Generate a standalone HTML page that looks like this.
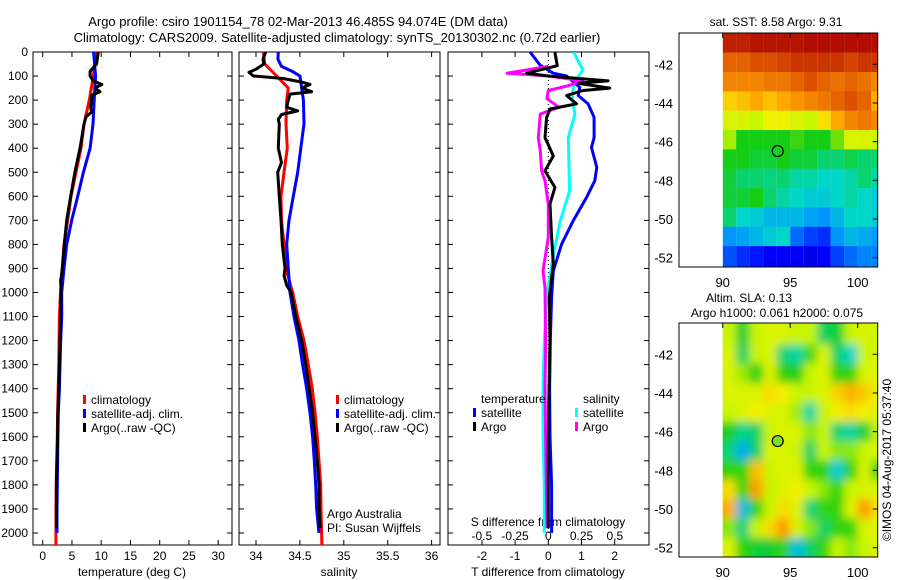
<!DOCTYPE html>
<html><head><meta charset="utf-8">
<style>
html,body{margin:0;padding:0;background:#fff;}
svg{display:block;font-family:"Liberation Sans",sans-serif;}
</style></head>
<body>
<svg id="fig" width="900" height="580" viewBox="0 0 900 580" xmlns="http://www.w3.org/2000/svg">
<defs>
<clipPath id="cp1"><rect x="33" y="52" width="199" height="493"/></clipPath>
<clipPath id="cp2"><rect x="239" y="52" width="201" height="493"/></clipPath>
<clipPath id="cp3"><rect x="448" y="52" width="201" height="493"/></clipPath>
<clipPath id="cpm1"><rect x="722.7" y="33" width="155" height="234"/></clipPath>
<clipPath id="cpm2"><rect x="722.7" y="323" width="155" height="234"/></clipPath>
<filter id="blur" x="-10%" y="-10%" width="120%" height="120%"><feGaussianBlur stdDeviation="4.5"/></filter>
</defs>
<text x="298" y="26" font-size="13" text-anchor="middle">Argo profile: csiro 1901154_78 02-Mar-2013 46.485S 94.074E (DM data)</text>
<text x="337" y="42" font-size="13" text-anchor="middle">Climatology: CARS2009. Satellite-adjusted climatology: synTS_20130302.nc (0.72d earlier)</text>
<g id="root"></g>
</svg>
<script>
// ---- data: temperature panel ----
const tempClimDepth = [0,100,200,300,400,500,600,700,800,900,1000,1100,1200,1300,1400,1500,1600,1700,1800,1900,2050];
const tempClim = [9.2,8.65,7.97,7.06,6.55,5.7,4.84,4.27,3.64,3.35,3.05,2.85,2.8,2.75,2.65,2.55,2.5,2.4,2.3,2.28,2.25];
const tempSatDepth = [0,100,200,300,400,500,600,700,800,900,1000,1100,1200,1300,1400,1500,1600,1700,1800,1900,2000];
const tempSat = [8.7,9.05,8.8,8.6,8.1,6.95,5.98,4.95,4.1,3.64,3.24,3.24,3.07,2.96,2.85,2.67,2.6,2.55,2.5,2.45,2.45];
const tempArgoDepth = [0,50,80,100,120,135,150,165,180,200,230,250,270,300,400,500,600,700,800,900,950,1000,1100,1200,1300,1400,1500,1600,1700,1800,1900,1980];
const tempArgo = [9.5,9.2,8.1,8.1,8.65,10.1,8.9,9.8,8.35,8.35,8.2,8.35,7.4,7.06,6.38,5.5,4.78,4.1,3.7,3.35,3.07,3.15,3.05,2.95,2.85,2.75,2.6,2.55,2.45,2.35,2.35,2.35];
// ---- data: salinity panel ----
const salClimDepth = [0,50,100,150,200,300,400,500,600,700,800,900,1000,1100,1200,1300,1400,1500,1600,1700,1800,1900,2050];
const salClim = [34.083,34.10,34.235,34.368,34.35,34.342,34.357,34.319,34.285,34.29,34.319,34.34,34.418,34.475,34.547,34.596,34.641,34.672,34.698,34.718,34.737,34.74,34.75];
const salSatDepth = [0,30,60,80,100,150,200,300,400,500,600,700,800,900,1000,1100,1200,1300,1400,1500,1600,1700,1800,1900,2000];
const salSat = [34.254,34.25,34.29,34.41,34.50,34.52,34.54,34.547,34.51,34.475,34.425,34.376,34.35,34.368,34.387,34.433,34.49,34.531,34.577,34.615,34.645,34.664,34.68,34.69,34.718];
const salArgoDepth = [0,30,50,70,85,100,110,125,135,150,165,175,200,230,245,260,280,300,400,460,500,600,700,800,900,930,970,1000,1100,1200,1300,1400,1500,1600,1700,1800,1900,1980];
const salArgo = [34.11,34.08,34.09,34.008,33.92,33.97,34.31,34.52,34.615,34.52,34.634,34.387,34.368,34.35,34.475,34.29,34.254,34.265,34.254,34.29,34.247,34.265,34.285,34.30,34.33,34.32,34.35,34.40,34.455,34.52,34.566,34.607,34.645,34.672,34.698,34.718,34.72,34.73];
// ---- data: difference panel ----
const dTsatDepth = [0,54,88,100,147,181,216,272,356,397,480,535,605,702,799,910,1020,1200,1400,1600,1800,2000];
const dTsat = [-0.55,-0.25,0.15,0.55,0.95,0.9,1.2,1.38,1.38,1.3,1.46,1.4,1.15,0.75,0.4,0.15,0.1,0.06,0.04,0.05,0.1,0.1];
const dTargoDepth = [2,57,88,100,120,130,150,160,181,216,237,272,356,432,494,563,632,770,881,1020,1200,1400,1600,1800,1980];
const dTargo = [0.2,0.27,-0.65,0,1.8,0.9,1.85,1.05,0.55,0.85,0.05,-0.05,-0.1,0.15,-0.1,0.2,0.05,0.1,0.15,0.03,0.05,0.02,0.0,0.0,0.0];
const dSsatDepth = [0,75,130,194,258,356,577,702,840,1006,1200,1400,1600,1800,2000];
const dSsat = [0.19,0.26,0.19,0.18,0.2,0.15,0.16,0.09,0.04,-0.01,-0.03,-0.04,-0.04,-0.03,-0.03];
const dSargoDepth = [60,88,100,120,140,160,194,230,258,356,411,494,535,632,770,910,980,1200,1400,1600,1800,1980];
const dSargo = [0,-0.31,0,0.26,0.15,0,-0.01,0.08,-0.06,-0.075,-0.06,-0.05,-0.025,0,0,-0.04,-0.025,-0.02,-0.025,-0.02,-0.015,-0.01];
// ---- tick labels ----
const depthTicks = [0,100,200,300,400,500,600,700,800,900,1000,1100,1200,1300,1400,1500,1600,1700,1800,1900,2000];
const tempTicks = [0,5,10,15,20,25,30];
const salTicks = [34,34.5,35,35.5,36];
const salTickLabels = ["34","34.5","35","35.5","36"];
const dTTicks = [-2,-1,0,1,2];
const dSTicks = [-0.5,-0.25,0,0.25,0.5];
const dSTickLabels = ["-0.5","-0.25","0","0.25","0.5"];
const latTicks = [-42,-44,-46,-48,-50,-52];
const lonTicks = [90,95,100];
// ---- map data (colour index 0..1), rows north->south, 1 degree cells ----
const sstGrid = [
[0.95,0.95,0.97,0.97,0.97,0.97,0.98,0.98,0.98,0.98,0.98,0.98],
[0.85,0.85,0.88,0.88,0.9,0.92,0.92,0.92,0.92,0.9,0.92,0.92],
[0.8,0.8,0.8,0.82,0.82,0.85,0.88,0.85,0.83,0.85,0.83,0.8],
[0.7,0.72,0.75,0.72,0.75,0.78,0.8,0.82,0.85,0.88,0.85,0.75],
[0.62,0.62,0.6,0.65,0.65,0.62,0.6,0.68,0.75,0.8,0.82,0.8],
[0.58,0.5,0.5,0.5,0.5,0.52,0.5,0.5,0.55,0.62,0.62,0.6],
[0.5,0.5,0.48,0.48,0.5,0.48,0.48,0.45,0.45,0.47,0.45,0.45],
[0.48,0.45,0.45,0.44,0.45,0.42,0.42,0.4,0.4,0.42,0.45,0.42],
[0.48,0.48,0.5,0.45,0.42,0.4,0.38,0.38,0.4,0.42,0.4,0.38],
[0.45,0.4,0.38,0.35,0.35,0.35,0.32,0.3,0.35,0.4,0.4,0.38],
[0.3,0.32,0.35,0.38,0.4,0.25,0.2,0.18,0.3,0.35,0.33,0.3],
[0.22,0.18,0.15,0.12,0.12,0.12,0.1,0.12,0.2,0.25,0.28,0.28]];
const slaGrid = [
[0.6,0.5,0.6,0.62,0.62,0.6,0.6,0.48,0.5,0.6,0.62,0.6],
[0.62,0.48,0.6,0.62,0.47,0.45,0.54,0.62,0.48,0.43,0.6,0.62],
[0.62,0.58,0.52,0.62,0.53,0.52,0.6,0.62,0.53,0.53,0.62,0.62],
[0.62,0.62,0.62,0.67,0.65,0.6,0.6,0.62,0.68,0.72,0.69,0.64],
[0.6,0.62,0.65,0.62,0.62,0.58,0.45,0.6,0.65,0.67,0.65,0.62],
[0.52,0.46,0.48,0.6,0.62,0.62,0.57,0.6,0.47,0.45,0.5,0.6],
[0.47,0.38,0.48,0.62,0.62,0.6,0.48,0.6,0.57,0.57,0.6,0.62],
[0.53,0.53,0.7,0.6,0.62,0.62,0.53,0.53,0.42,0.53,0.62,0.53],
[0.67,0.53,0.74,0.6,0.62,0.65,0.6,0.57,0.53,0.6,0.62,0.62],
[0.72,0.4,0.53,0.6,0.67,0.62,0.47,0.53,0.53,0.62,0.74,0.66],
[0.57,0.47,0.6,0.67,0.74,0.62,0.57,0.48,0.53,0.53,0.62,0.62],
[0.62,0.53,0.5,0.5,0.53,0.4,0.48,0.53,0.6,0.57,0.6,0.62]];
const argoLon = 94.074;
const argoLat = -46.485;

const NS = "http://www.w3.org/2000/svg";
const root = document.getElementById("root");
function mk(tag, attrs, parent) {
  const e = document.createElementNS(NS, tag);
  for (const k in attrs) e.setAttribute(k, attrs[k]);
  (parent || root).appendChild(e);
  return e;
}
const Y0 = 52, Y1 = 545;
const yD = d => Y0 + d * 0.2405;
const xT = t => 42.7 + t * 5.85;
const xS = s => 256 + (s - 34) * 87.8;
const xDT = v => 548.3 + v * 33.2;
const xDS = v => 548.3 + v * 133;
const mxLon = lon => 722.7 + (lon - 90) * 13.5;
const myLat1 = lat => 64.3 + (-42 - lat) * 19.34;
const myLat2 = lat => 354.3 + (-42 - lat) * 19.34;

function profile(depths, vals, xf, color, clip, name, w) {
  let d = "";
  depths.forEach((z, i) => { d += (i ? "L" : "M") + xf(vals[i]).toFixed(1) + "," + yD(z).toFixed(1); });
  const p = mk("path", {d: d, fill: "none", stroke: color, "stroke-width": w || 3, "clip-path": "url(#" + clip + ")", "stroke-linejoin": "round"});
  
  
}
function frame(x0, x1, name) {
  const r = mk("rect", {x: x0, y: Y0, width: x1 - x0, height: Y1 - Y0, fill: "none", stroke: "#000", "stroke-width": 1});
  
  
  depthTicks.forEach(d => {
    const y = yD(d);
    const t1 = mk("line", {x1: x0, x2: x0 + 5, y1: y, y2: y, stroke: "#000"});
    
    
    const t2 = mk("line", {x1: x1, x2: x1 - 5, y1: y, y2: y, stroke: "#000"});
    
    
  });
}
function xticks(vals, labels, xf, ly, name, top) {
  vals.forEach((v, i) => {
    const x = xf(v);
    if (top !== false) {
      const a = mk("line", {x1: x, x2: x, y1: Y0, y2: Y0 + 5, stroke: "#000"});
      
      
      const b = mk("line", {x1: x, x2: x, y1: Y1, y2: Y1 - 5, stroke: "#000"});
      
      
    }
    const t = mk("text", {x: x, y: ly, "font-size": 12, "text-anchor": "middle"});
    t.textContent = labels[i];
    
    
  });
}
function text(x, y, s, name, anchor, size) {
  const t = mk("text", {x: x, y: y, "font-size": size || 12, "text-anchor": anchor || "start"});
  t.textContent = s;
  
  
  return t;
}
function legendEntry(x, y, color, label, name) {
  const r = mk("rect", {x: x, y: y - 9, width: 3, height: 9, fill: color});
  
  
  text(x + 8, y, label, name);
}

// ---- panel 1 ----
frame(33, 232, 'temperature-panel');
depthTicks.forEach(d => text(28, yD(d) + 4, String(d), 'depth-tick-label', 'end'));
xticks(tempTicks, tempTicks.map(String), xT, 560, 'temperature-tick-label');
text(132, 576, 'temperature (deg C)', 'temperature-axis-title', 'middle');
profile(tempClimDepth, tempClim, xT, "#ff0000", "cp1", "temp-climatology-line");
profile(tempSatDepth, tempSat, xT, "#0000ff", "cp1", "temp-satellite-line");
profile(tempArgoDepth, tempArgo, xT, "#000000", "cp1", "temp-argo-line");
legendEntry(83, 404, "#ff0000", "climatology", "legend-climatology");
legendEntry(83, 418, "#0000ff", "satellite-adj. clim.", "legend-satellite-adj");
legendEntry(83, 432, "#000000", "Argo(..raw -QC)", "legend-argo");

// ---- panel 2 ----
frame(239, 440, 'salinity-panel');
xticks(salTicks, salTickLabels, xS, 560, 'salinity-tick-label');
text(339, 576, 'salinity', 'salinity-axis-title', 'middle');
profile(salClimDepth, salClim, xS, "#ff0000", "cp2", "sal-climatology-line");
profile(salSatDepth, salSat, xS, "#0000ff", "cp2", "sal-satellite-line");
profile(salArgoDepth, salArgo, xS, "#000000", "cp2", "sal-argo-line");
legendEntry(336, 404, "#ff0000", "climatology", "legend-climatology");
legendEntry(336, 418, "#0000ff", "satellite-adj. clim.", "legend-satellite-adj");
legendEntry(336, 432, "#000000", "Argo(..raw -QC)", "legend-argo");
text(327, 518, 'Argo Australia', 'argo-australia-label');
text(327, 532, 'PI: Susan Wijffels', 'pi-label');

// ---- panel 3 ----
frame(448, 649, 'difference-panel');
const zl = mk("line", {x1: xDT(0), x2: xDT(0), y1: Y0, y2: yD(2000), stroke: "#000", "stroke-dasharray": "1,3"});


xticks(dTTicks, dTTicks.map(String), xDT, 560, 't-diff-tick-label');
xticks(dSTicks, dSTickLabels, xDS, 540, 's-diff-tick-label', false);
text(548, 576, 'T difference from climatology', 't-diff-axis-title', 'middle');
text(548, 526, 'S difference from climatology', 's-diff-axis-title', 'middle');
profile(dSsatDepth, dSsat, xDS, "#00ffff", "cp3", "s-diff-satellite-line");
profile(dTsatDepth, dTsat, xDT, "#0000ff", "cp3", "t-diff-satellite-line");
profile(dSargoDepth, dSargo, xDS, "#ff00ff", "cp3", "s-diff-argo-line");
profile(dTargoDepth, dTargo, xDT, "#000000", "cp3", "t-diff-argo-line");
text(481, 403, 'temperature', 'legend-temperature-heading');
legendEntry(473, 417, "#0000ff", "satellite", "legend-t-satellite");
legendEntry(473, 431, "#000000", "Argo", "legend-t-argo");
text(583, 403, 'salinity', 'legend-salinity-heading');
legendEntry(575, 417, "#00ffff", "satellite", "legend-s-satellite");
legendEntry(575, 431, "#ff00ff", "Argo", "legend-s-argo");

// ---- colour map ----
const cstops = [[0,[0,0,140]],[0.125,[0,0,255]],[0.3,[0,150,255]],[0.4,[0,215,200]],[0.5,[20,205,20]],[0.6,[200,245,0]],[0.66,[245,240,0]],[0.76,[255,160,0]],[0.88,[220,80,0]],[1,[170,0,0]]];
function cmap(v) {
  v = Math.max(0, Math.min(1, v));
  for (let i = 1; i < cstops.length; i++) {
    if (v <= cstops[i][0]) {
      const a = cstops[i - 1], b = cstops[i], f = (v - a[0]) / (b[0] - a[0]);
      const c = a[1].map((x, k) => Math.round(x + (b[1][k] - x) * f));
      return "rgb(" + c.join(",") + ")";
    }
  }
  return "rgb(170,0,0)";
}
function mapGroup(name) {
  const g = mk("g", {});
  
  
  return g;
}
// SST map
const g1 = mapGroup('sst-map');
const cg1 = mk("g", {"clip-path": "url(#cpm1)"}, g1);
sstGrid.forEach((row, j) => row.forEach((v, i) => {
  const la0 = -40.4 - j, la1 = -41.4 - j - (j === 11 ? 0.3 : 0);
  const r = mk("rect", {x: mxLon(90 + i), y: myLat1(la0), width: 13.6, height: myLat1(la1) - myLat1(la0) + 0.2, fill: cmap(v)}, cg1);
  
  
}));
// SLA map
const g2 = mapGroup('sla-map');
const cg2 = mk("g", {"clip-path": "url(#cpm2)"}, g2);
const bg2 = mk("g", {filter: "url(#blur)"}, cg2);
for (let j = -1; j <= 12; j++) for (let i = -1; i <= 12; i++) {
  const jj = Math.max(0, Math.min(11, j)), ii = Math.max(0, Math.min(11, i));
  const v = 0.6 + (slaGrid[jj][ii] - 0.6) * 1.2;
  const r = mk("rect", {x: mxLon(90 + i) - 0.2, y: myLat2(-40.5 - j) - 0.2, width: 13.9, height: 19.8, fill: cmap(v)}, bg2);
  
  
}
function mapAxes(g, yTop, myLat, fillC, nm) {
  const r = mk("rect", {x: 679, y: yTop, width: 198.7, height: 234, fill: "none", stroke: "#000"}, g);
  
  
  latTicks.forEach(l => {
    const y = myLat(l);
    const t = mk("line", {x1: 877.7, x2: 872.7, y1: y, y2: y, stroke: "#000"}, g);
    
    
    const tx = mk("text", {x: 673, y: y + 5, "font-size": 13, "text-anchor": "end"}, g);
    tx.textContent = String(l);
    
    
  });
  lonTicks.forEach(l => {
    const x = mxLon(l);
    const t = mk("line", {x1: x, x2: x, y1: yTop, y2: yTop + 5, stroke: "#000"}, g);
    
    
    const tx = mk("text", {x: x, y: yTop + 254, "font-size": 13, "text-anchor": "middle"}, g);
    tx.textContent = String(l);
    
    
  });
  const c = mk("circle", {cx: mxLon(argoLon), cy: myLat(argoLat), r: 5.5, fill: fillC, stroke: "#000", "stroke-width": 1.2}, g);
  
  
}
mapAxes(g1, 33, myLat1, "none", 'sst-map');
mapAxes(g2, 323, myLat2, "#80e020", 'sla-map');
text(776, 26, 'sat. SST: 8.58 Argo: 9.31', 'sst-map-title', 'middle', 12);
text(749, 302, 'Altim. SLA: 0.13', 'sla-map-title', 'middle', 12);
text(777, 317, 'Argo h1000: 0.061 h2000: 0.075', 'sla-map-subtitle', 'middle', 12);
const cr = text(0, 0, '\u00a9IMOS 04-Aug-2017 05:37:40', 'imos-credit', 'middle', 12);
cr.setAttribute('transform', 'translate(891,460) rotate(-90)');
</script>
</body></html>
